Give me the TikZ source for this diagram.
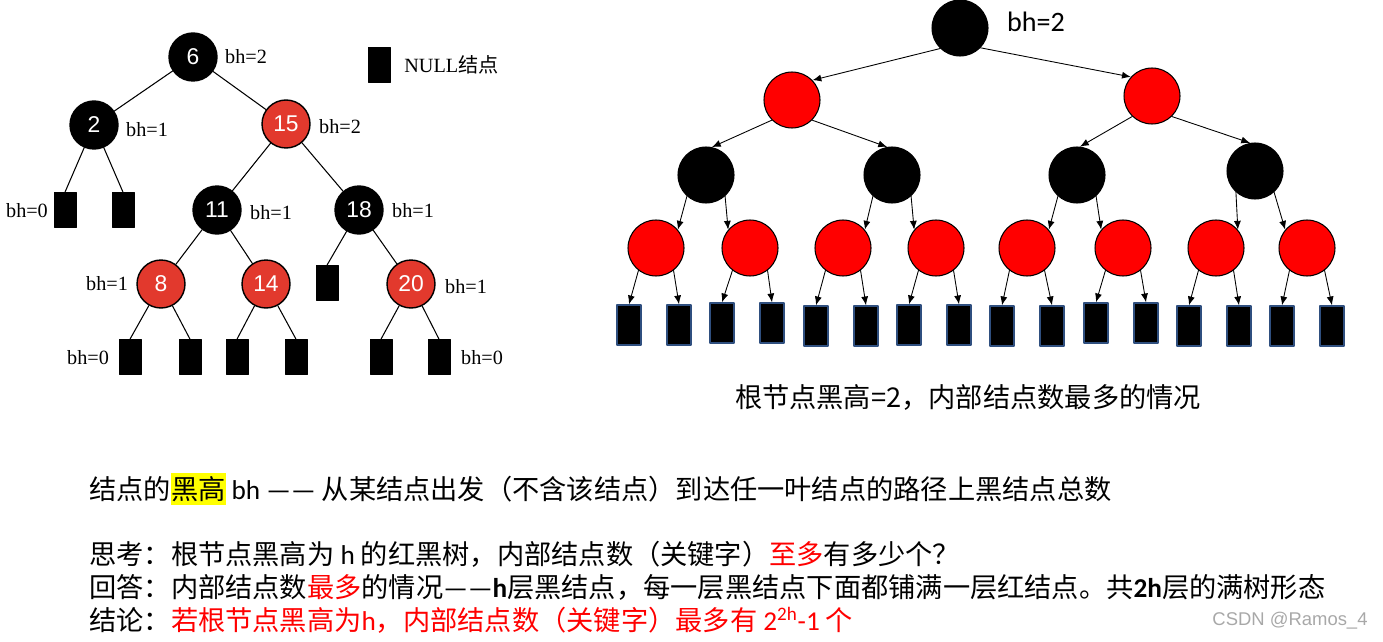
\documentclass[tikz,border=0pt]{standalone}
\usepackage{fontspec}
\setmainfont{Liberation Serif}
\newfontfamily\cjk{Noto Sans CJK SC}
\newfontfamily\calib{Carlito}
\newfontfamily\arialf{Liberation Sans}
\usetikzlibrary{arrows.meta}
\definecolor{rbred}{HTML}{E2392D}
\definecolor{fullred}{HTML}{FF0000}
\definecolor{leafedge}{HTML}{2F4F7F}
\definecolor{markyellow}{HTML}{FFFF00}
\definecolor{csdngray}{HTML}{A8A8A8}
\tikzset{
  rbnode/.style={circle, draw=black, line width=0.8pt, minimum size=0.96cm, inner sep=0pt,
    text=white, font=\arialf\fontsize{13}{13}\selectfont},
  blk/.style={rbnode, fill=black},
  rd/.style={rbnode, fill=rbred},
  nil/.style={rectangle, fill=black, draw=black, minimum width=0.44cm, minimum height=0.70cm, inner sep=0pt},
  bhlab/.style={font=\fontsize{11.5}{12}\selectfont, inner sep=0pt},
  link/.style={line width=0.6pt},
  fullnode/.style={circle, draw=black, line width=0.6pt, minimum size=1.12cm, inner sep=0pt},
  fblk/.style={fullnode, fill=black},
  frd/.style={fullnode, fill=fullred},
  fnil/.style={rectangle, fill=black, draw=leafedge, line width=0.8pt, minimum width=0.48cm, minimum height=0.80cm, inner sep=0pt},
  arr/.style={-{Latex[length=5pt,width=4pt]}, line width=0.5pt},
  textline/.style={anchor=base west, inner sep=0pt, font=\cjk\fontsize{15.5}{19}\selectfont},
}
\newcommand{\hlbox}[1]{{\setlength\fboxsep{0pt}\colorbox{markyellow}{\rule[-3.4pt]{0pt}{18.1pt}#1}}}

\begin{document}
\begin{tikzpicture}[x=0.02cm, y=-0.02cm, line cap=round, line join=round]
  \useasboundingbox (0,0) rectangle (1383,642);

  % ============ Left tree: black heights ============
  \node[blk] (t6) at (193,57) {6};
  \node[blk] (t2) at (94,125) {2};
  \node[rd] (t15) at (286,124) {15};
  \node[nil] (n1) at (65,210) {};
  \node[nil] (n2) at (123,210) {};
  \node[blk] (t11) at (217,210) {11};
  \node[blk] (t18) at (359,210) {18};
  \node[rd] (t8) at (161,284) {8};
  \node[rd] (t14) at (266,284) {14};
  \node[nil] (n3) at (327,283) {};
  \node[rd] (t20) at (411,284) {20};
  \node[nil] (n4) at (130,357) {};
  \node[nil] (n5) at (190,357) {};
  \node[nil] (n6) at (237,357) {};
  \node[nil] (n7) at (296,357) {};
  \node[nil] (n8) at (381,357) {};
  \node[nil] (n9) at (439,357) {};

  \draw[link] (t6) -- (t2);
  \draw[link] (t6) -- (t15);
  \draw[link] (t2) -- (n1.north);
  \draw[link] (t2) -- (n2.north);
  \draw[link] (t15) -- (t11);
  \draw[link] (t15) -- (t18);
  \draw[link] (t11) -- (t8);
  \draw[link] (t11) -- (t14);
  \draw[link] (t18) -- (n3.north);
  \draw[link] (t18) -- (t20);
  \draw[link] (t8) -- (n4.north);
  \draw[link] (t8) -- (n5.north);
  \draw[link] (t14) -- (n6.north);
  \draw[link] (t14) -- (n7.north);
  \draw[link] (t20) -- (n8.north);
  \draw[link] (t20) -- (n9.north);

  \node[bhlab] (b6) at (246,57) {bh=2};
  \node[bhlab] (b2) at (147,130) {bh=1};
  \node[bhlab] (b15) at (340,127) {bh=2};
  \node[bhlab] (b0a) at (27,211) {bh=0};
  \node[bhlab] (b11) at (271,213) {bh=1};
  \node[bhlab] (b18) at (413,211) {bh=1};
  \node[bhlab] (b8) at (107,284) {bh=1};
  \node[bhlab] (b20) at (466,287) {bh=1};
  \node[bhlab] (b0b) at (88,358) {bh=0};
  \node[bhlab] (b0c) at (482,358) {bh=0};

  % legend
  \node[nil] (key) at (379,65) {};
  \node[bhlab, anchor=west] (keytext) at (404,65) {NULL{\cjk 结点}};

  % ============ Right tree: fullest tree with bh=2 ============
  \node[fblk] (r0) at (960,28) {};
  \node[font=\calib\fontsize{16}{16}\selectfont, inner sep=0pt] (rbh) at (1036,22) {bh=2};

  \node[frd] (r1a) at (792,100) {};
  \node[frd] (r1b) at (1152,96) {};

  \node[fblk] (r2a) at (706,175) {};
  \node[fblk] (r2b) at (892,175) {};
  \node[fblk] (r2c) at (1077,175) {};
  \node[fblk] (r2d) at (1255,171) {};

  \node[frd] (r3a) at (656,248) {};
  \node[frd] (r3b) at (750,248) {};
  \node[frd] (r3c) at (843,248) {};
  \node[frd] (r3d) at (936,248) {};
  \node[frd] (r3e) at (1027,248) {};
  \node[frd] (r3f) at (1123,248) {};
  \node[frd] (r3g) at (1216,248) {};
  \node[frd] (r3h) at (1307,248) {};

  \node[fnil] (f1) at (629,325) {};
  \node[fnil] (f2) at (679,325) {};
  \node[fnil] (f3) at (722,323) {};
  \node[fnil] (f4) at (772,323) {};
  \node[fnil] (f5) at (816,326) {};
  \node[fnil] (f6) at (866,326) {};
  \node[fnil] (f7) at (909,325) {};
  \node[fnil] (f8) at (959,325) {};
  \node[fnil] (f9) at (1002,326) {};
  \node[fnil] (f10) at (1052,326) {};
  \node[fnil] (f11) at (1096,323) {};
  \node[fnil] (f12) at (1146,323) {};
  \node[fnil] (f13) at (1189,326) {};
  \node[fnil] (f14) at (1239,326) {};
  \node[fnil] (f15) at (1282,326) {};
  \node[fnil] (f16) at (1332,326) {};

  \draw[arr] (r0.226) -- (r1a.44);
  \draw[arr] (r0.316) -- (r1b.138);
  \draw[arr] (r1a.225) -- (r2a.78);
  \draw[arr] (r1a.315) -- (r2b.100);
  \draw[arr] (r1b.226) -- (r2c.84);
  \draw[arr] (r1b.314) -- (r2d.100);

  \draw[arr] (r2a.228) -- (r3a.40);
  \draw[arr] (r2a.312) -- (r3b.140);
  \draw[arr] (r2b.228) -- (r3c.40);
  \draw[arr] (r2b.312) -- (r3d.140);
  \draw[arr] (r2c.228) -- (r3e.40);
  \draw[arr] (r2c.312) -- (r3f.140);
  \draw[arr] (r2d.228) -- (r3g.40);
  \draw[arr] (r2d.312) -- (r3h.140);

  \draw[arr] (r3a.232) -- (f1.north);
  \draw[arr] (r3a.308) -- (f2.north);
  \draw[arr] (r3b.232) -- (f3.north);
  \draw[arr] (r3b.308) -- (f4.north);
  \draw[arr] (r3c.232) -- (f5.north);
  \draw[arr] (r3c.308) -- (f6.north);
  \draw[arr] (r3d.232) -- (f7.north);
  \draw[arr] (r3d.308) -- (f8.north);
  \draw[arr] (r3e.232) -- (f9.north);
  \draw[arr] (r3e.308) -- (f10.north);
  \draw[arr] (r3f.232) -- (f11.north);
  \draw[arr] (r3f.308) -- (f12.north);
  \draw[arr] (r3g.232) -- (f13.north);
  \draw[arr] (r3g.308) -- (f14.north);
  \draw[arr] (r3h.232) -- (f15.north);
  \draw[arr] (r3h.308) -- (f16.north);

  \node[font=\cjk\fontsize{15.5}{18}\selectfont, inner sep=0pt] (caption) at (968,397)
    {根节点黑高=2，内部结点数最多的情况};

  % ============ Text below ============
  \node[textline] (line1) at (89,499)
    {结点的\hlbox{黑高} {\calib bh ——} 从某结点出发（不含该结点）到达任一叶结点的路径上黑结点总数};
  \node[textline] (line2) at (89,564)
    {思考：根节点黑高为 {\calib h} 的红黑树，内部结点数（关键字）{\color{fullred}至多}有多少个？};
  \node[textline] (line3) at (89,597)
    {回答：内部结点数{\color{fullred}最多}的情况{\calib ——\bfseries h}层黑结点，每一层黑结点下面都铺满一层红结点。共{\calib\bfseries 2h}层的满树形态};
  \node[textline] (line4) at (89,630)
    {结论：{\color{fullred}若根节点黑高为{\calib h}，内部结点数（关键字）最多有 {\calib 2\textsuperscript{2h}-1} 个}};

  \node[font=\arialf\fontsize{10.5}{11}\selectfont, text=csdngray, inner sep=0pt] (mark) at (1290,621) {CSDN @Ramos\_4};

\end{tikzpicture}
\end{document}
